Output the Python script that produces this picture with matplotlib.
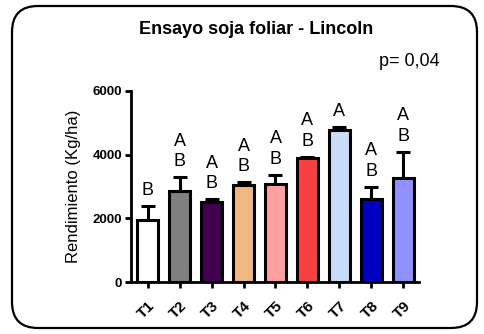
import matplotlib
matplotlib.use("Agg")
import matplotlib.pyplot as plt
from matplotlib.patches import FancyBboxPatch
from matplotlib.transforms import IdentityTransform

plt.rcParams['font.family'] = ['Liberation Sans', 'DejaVu Sans']

categories = ["T1", "T2", "T3", "T4", "T5", "T6", "T7", "T8", "T9"]
means = [1950, 2860, 2510, 3050, 3090, 3900, 4780, 2610, 3270]
errors = [430, 430, 90, 85, 270, 30, 85, 380, 810]
letters = ["B", "A\nB", "A\nB", "A\nB", "A\nB", "A\nB", "A", "A\nB", "A\nB"]
colors = ["#FFFFFF", "#808080", "#420050", "#F0B880", "#FFA0A0",
          "#F84040", "#C8DCF8", "#0000C0", "#9090FF"]
yticks = [0, 2000, 4000, 6000]

fig = plt.figure(figsize=(4.85, 3.34), dpi=100)

# rounded frame (pixel coordinates)
frame = FancyBboxPatch((12, 6), 465, 322,
                       boxstyle="round,pad=0,rounding_size=26",
                       transform=IdentityTransform(), fill=False,
                       edgecolor="black", linewidth=1.6)
fig.patches.append(frame)

ax = fig.add_axes([131/485, 1 - 282.3/334, (419-131)/485, (282.3-90.7)/334])

x = list(range(1, len(categories) + 1))
ax.bar(x, means, width=0.66, color=colors, edgecolor="black", linewidth=2.2, zorder=2)
ax.errorbar(x, means, yerr=[[0]*len(errors), errors], fmt="none", ecolor="black",
            elinewidth=2.2, capsize=5, capthick=2.2, zorder=1)

for xi, m, e, lab in zip(x, means, errors, letters):
    ax.annotate(lab, (xi, m + e), xytext=(0, 5), textcoords="offset points",
                ha="center", va="bottom", fontsize=13, linespacing=1.28)

ax.set_xlim(0.48, 9.49)
ax.set_ylim(0, 6000)
ax.set_yticks(yticks)
ax.set_yticklabels([str(t) for t in yticks], fontsize=9.5, fontweight="bold")
ax.set_xticks(x)
ax.set_xticklabels(categories, fontsize=11, fontweight="bold", rotation=45,
                   ha="right", rotation_mode="anchor")
ax.tick_params(axis="both", direction="out", length=4.5, width=2)
ax.tick_params(axis="y", pad=2)
ax.tick_params(axis="x", pad=7)
for s in ["top", "right"]:
    ax.spines[s].set_visible(False)
for s in ["left", "bottom"]:
    ax.spines[s].set_linewidth(2)
ax.set_ylabel("Rendimiento (Kg/ha)", fontsize=12, labelpad=8)

fig.text(256/485, 1 - 30/334, "Ensayo soja foliar - Lincoln", ha="center", va="center",
         fontsize=13, fontweight="bold")
fig.text(409/485, 1 - 62/334, "p= 0,04", ha="center", va="center", fontsize=13)

fig.savefig("out.png", dpi=100)
